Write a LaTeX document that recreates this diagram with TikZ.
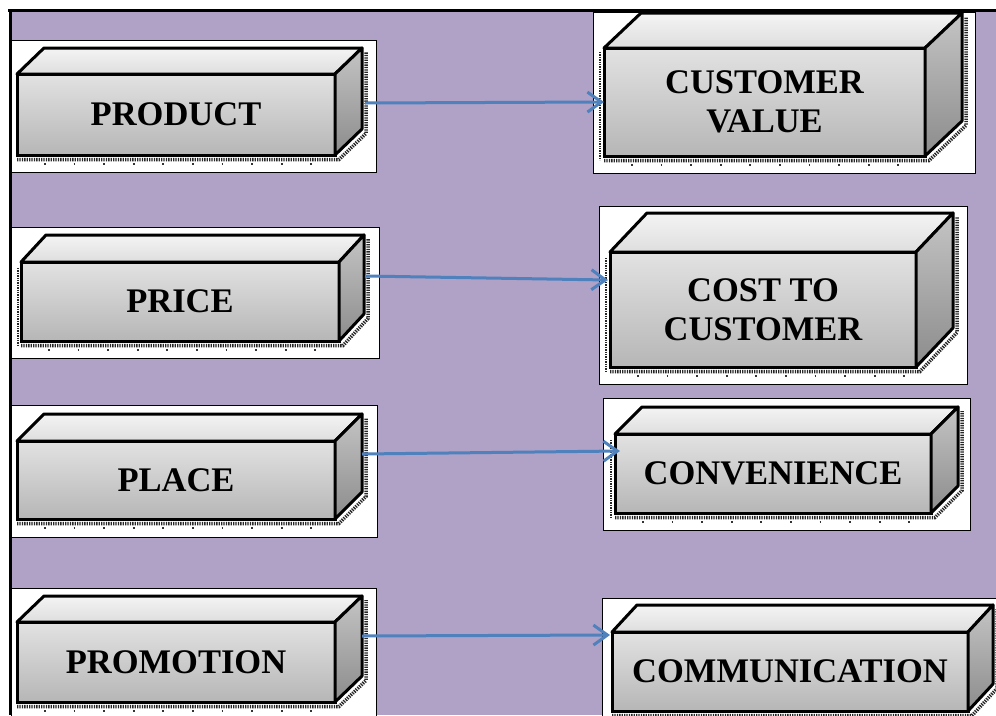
\documentclass[tikz,border=0pt]{standalone}
\usepackage{fontspec}
\setmainfont{Liberation Serif}
\usetikzlibrary{positioning, calc, arrows.meta}

\definecolor{bgpurple}{RGB}{176,161,199}
\definecolor{linkblue}{RGB}{79,129,189}
\definecolor{frontlight}{RGB}{226,226,226}
\definecolor{frontdark}{RGB}{182,182,182}
\definecolor{toplight}{RGB}{244,244,244}
\definecolor{topdark}{RGB}{222,222,222}
\definecolor{sidelight}{RGB}{196,196,196}
\definecolor{sidedark}{RGB}{140,140,140}

\tikzset{
  frontface/.style={draw=black, line width=3pt, outer sep=0pt, inner sep=2pt,
    top color=frontlight, bottom color=frontdark, align=center,
    font=\bfseries\fontsize{34.5}{39}\selectfont},
  topface/.style={draw=black, line width=3pt, line join=round, top color=toplight, bottom color=topdark},
  sideface/.style={draw=black, line width=3pt, line join=round, top color=sidelight, bottom color=sidedark},
  dotshadow/.style={draw=black!85, line width=3.5pt, dash pattern=on 1.3pt off 1.1pt},
  sparsedots/.style={draw=black!80, line width=1.8pt, dash pattern=on 1.8pt off 27.8pt},
  whitepad/.style={fill=white, draw=black, line width=0.8pt},
  link/.style={draw=linkblue, line width=3pt, -{Straight Barb[length=14pt,width=20pt]}}
}

% top face, side face and dotted shadow of a box
\newcommand{\boxsides}[3]{%
  \draw[dotshadow] ($(#1.south west)+(0,4.5)$) -- ($(#1.south east)+(4,4.5)$)
    -- ($(#1.south east)+(#2+4,-#3+4.5)$) -- ($(#1.north east)+(#2+4,-#3+4)$);
  \draw[sparsedots] ($(#1.south west)+(27,9)$) -- ($(#1.south east)+(0,9)$);
  \draw[topface] (#1.north west) -- ++(#2,-#3) -- ($(#1.north east)+(#2,-#3)$) -- (#1.north east) -- cycle;
  \draw[sideface] (#1.north east) -- ++(#2,-#3) -- ($(#1.south east)+(#2,-#3)$) -- (#1.south east) -- cycle;
}

\begin{document}
\begin{tikzpicture}[x=1pt, y=-1pt]
    \useasboundingbox (0,0) rectangle (996,715);

    % background
    \fill[white] (0,0) rectangle (996,715);
    \fill[bgpurple] (10,10) rectangle (996,715);

    % white pads behind the boxes
    \draw[whitepad] (11,40) rectangle (376,172);
    \draw[whitepad] (593,12) rectangle (975,173);
    \draw[whitepad] (11,227) rectangle (379,358);
    \draw[whitepad] (599,206) rectangle (967,384);
    \draw[whitepad] (11,405) rectangle (377,537);
    \draw[whitepad] (603,398) rectangle (970,530);
    \draw[whitepad] (11,588) rectangle (376,716);
    \draw[whitepad] (602,598) rectangle (997,716);

    % frame
    \draw[line width=3pt] (8,10.5) -- (996,10.5);
    \draw[line width=3pt] (10.5,9) -- (10.5,715);

    % extra dots on the left of some boxes
    \draw[dotshadow, line width=2.5pt] (18,268) -- (18,345);
    \draw[dotshadow, line width=2.5pt] (600,52) -- (600,160);
    \draw[dotshadow, line width=2.5pt] (606,258) -- (606,371);
    \draw[dotshadow, line width=2.5pt] (611,440) -- (611,517);

    % boxes: left column
    \node[frontface, minimum width=318pt, minimum height=81pt] (product) at (176,114.5) {PRODUCT};
    \boxsides{product}{27}{26}
    \node[frontface, minimum width=318pt, minimum height=79pt] (price) at (180,301.5) {PRICE};
    \boxsides{price}{25}{27}
    \node[frontface, minimum width=318pt, minimum height=78pt] (place) at (176,480) {PLACE};
    \boxsides{place}{27}{27}
    \node[frontface, minimum width=318pt, minimum height=80pt] (promotion) at (176,662) {PROMOTION};
    \boxsides{promotion}{27}{26}

    % boxes: right column
    \node[frontface, minimum width=321pt, minimum height=108pt] (custvalue) at (764.5,102) {CUSTOMER\\VALUE};
    \boxsides{custvalue}{37}{35}
    \node[frontface, minimum width=306pt, minimum height=115pt] (costcust) at (763,309.5) {COST TO\\CUSTOMER};
    \boxsides{costcust}{37}{39}
    \node[frontface, minimum width=316pt, minimum height=79pt] (convenience) at (773,473.5) {CONVENIENCE};
    \boxsides{convenience}{27}{27}
    \node[frontface, minimum width=356pt, minimum height=79pt] (communication) at (790,671.5) {COMMUNICATION};
    \boxsides{communication}{25}{27}

    % arrows
    \coordinate (product-out) at ($(product.east)+(30,-11.5)$);
    \coordinate (price-out) at ($(price.east)+(26,-25.5)$);
    \coordinate (place-out) at ($(place.east)+(27,-26)$);
    \coordinate (promotion-out) at ($(promotion.east)+(27,-26)$);
    \coordinate (costcust-in) at ($(costcust.north west)+(-2,28)$);
    \coordinate (convenience-in) at ($(convenience.west)+(5,-22.5)$);
    \coordinate (communication-in) at ($(communication.north west)+(-2,3)$);

    \draw[link] (product-out) -- (custvalue.west);
    \draw[link] (price-out) -- (costcust-in);
    \draw[link] (place-out) -- (convenience-in);
    \draw[link] (promotion-out) -- (communication-in);
\end{tikzpicture}
\end{document}
